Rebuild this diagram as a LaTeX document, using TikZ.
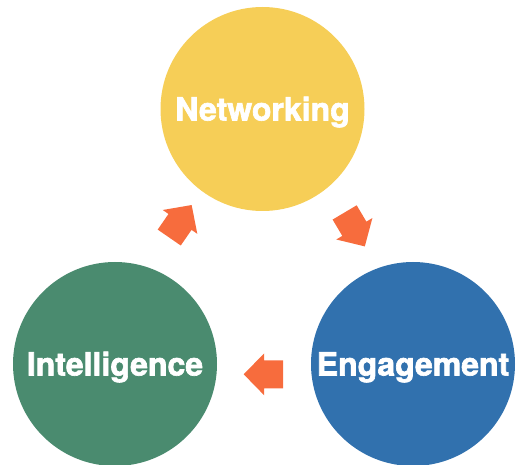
\documentclass[tikz,border=0pt]{standalone}
\usepackage{fontspec}
\setmainfont{TeX Gyre Heros}[BoldFeatures={FakeBold=2}]
\definecolor{cyellow}{RGB}{246,206,87}
\definecolor{cgreen}{RGB}{74,139,111}
\definecolor{cblue}{RGB}{49,113,174}
\definecolor{corange}{RGB}{247,108,61}
\tikzset{
  bubble/.style={circle, inner sep=0pt, minimum size=204pt, text=white,
    font=\fontsize{32}{32}\selectfont\bfseries, text height=23pt, text depth=0pt},
  blockarrow/.pic={
    \fill[corange] (20,0) -- (-0.5,21) -- (-0.5,14) -- (-19.5,14) -- (-19.5,-14) -- (-0.5,-14) -- (-0.5,-21) -- cycle;
  }
}
\begin{document}
\begin{tikzpicture}[x=1pt,y=-1pt]
\useasboundingbox (0,0) rectangle (520,465);
\node[bubble, fill=cyellow] (N) at (262.5,109) {Networking};
\node[bubble, fill=cgreen] (I) at (115,364) {Intelligence};
\node[bubble, fill=cblue] (E) at (413,364) {Engagement};
\coordinate (aIN) at (180.3,221.5);
\coordinate (aNE) at (354.6,229.2);
\coordinate (aEI) at (263.7,374.3);
\pic[rotate=55.4] at (aIN) {blockarrow};
\pic[rotate=-59.3] at (aNE) {blockarrow};
\pic[rotate=180] at (aEI) {blockarrow};
\end{tikzpicture}
\end{document}
